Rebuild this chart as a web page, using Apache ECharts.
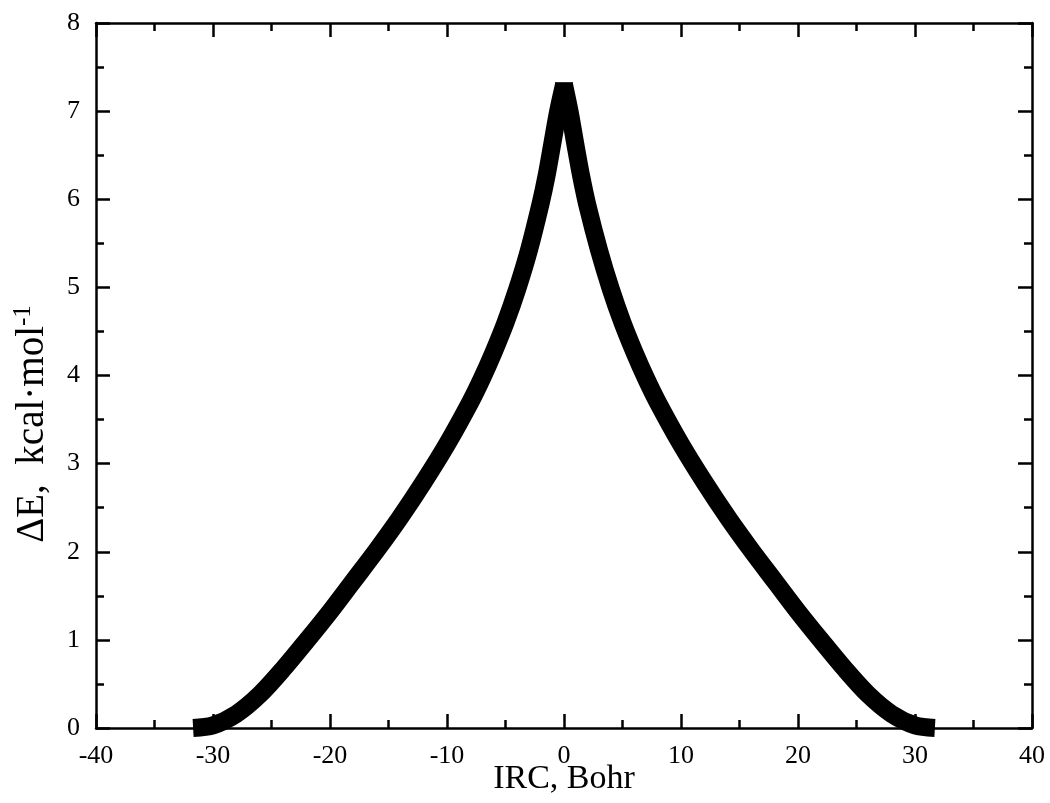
<!DOCTYPE html>
<html>
<head>
<meta charset="utf-8">
<script src="https://cdn.jsdelivr.net/npm/echarts@6/dist/echarts.min.js"></script>
<style>
html,body{margin:0;padding:0;background:#fff;}
#chart{width:1050px;height:803px;}
</style>
</head>
<body>
<div id="chart"></div>
<script>
// IRC coordinate (Bohr)
const irc = [-31.7, -30, -28, -26, -24, -22, -20, -18, -16, -14, -12, -10, -8, -7, -6, -5, -4, -3, -2, -1.5, -1, -0.5, 0,
             0.5, 1, 1.5, 2, 3, 4, 5, 6, 7, 8, 10, 12, 14, 16, 18, 20, 22, 24, 26, 28, 30, 31.7];
// Relative energy (kcal/mol)
const energy = [0.00, 0.03, 0.16, 0.38, 0.67, 0.99, 1.32, 1.67, 2.02, 2.39, 2.79, 3.22, 3.70, 3.97, 4.27, 4.60, 4.98, 5.42, 5.95, 6.26, 6.63, 7.00, 7.30,
                6.98, 6.60, 6.24, 5.93, 5.42, 4.98, 4.60, 4.27, 3.97, 3.70, 3.22, 2.79, 2.39, 2.02, 1.67, 1.32, 0.99, 0.67, 0.38, 0.16, 0.03, 0.00];
const xTicks = {min: -40, max: 40, interval: 10};
const yTicks = {min: 0, max: 8, interval: 1};

const chart = echarts.init(document.getElementById('chart'));
const font = '"Liberation Serif", "Times New Roman", serif';
const axisLine = {show: true, onZero: false, lineStyle: {color: '#000', width: 2.5}};
const tickIn = {show: true, inside: true, length: 14, lineStyle: {color: '#000', width: 2.5}};
const minorIn = {show: true, splitNumber: 2, length: 8, lineStyle: {color: '#000', width: 2.5}};

// split at the transition state (maximum energy) into reactant and product branches
const peak = energy.indexOf(Math.max(...energy));
const pts = irc.map((x, i) => [x, energy[i]]);
const left = pts.slice(0, peak + 1).map((p, i, a) => i === a.length - 1
  ? {value: p, symbol: 'rect', symbolSize: [18, 5], itemStyle: {color: '#000'}} : p);
const right = pts.slice(peak);
const lineStyle = {color: '#000', width: 18, cap: 'butt', join: 'bevel'};

chart.setOption({
  backgroundColor: '#fff',
  animation: false,
  grid: {left: 96, right: 18, top: 23, bottom: 75, show: false, containLabel: false, outerBoundsMode: 'none'},
  xAxis: [{
    type: 'value', min: xTicks.min, max: xTicks.max, interval: xTicks.interval, position: 'bottom',
    name: 'IRC, Bohr', nameLocation: 'middle', nameGap: 34, nameMoveOverlap: false,
    nameTextStyle: {fontFamily: font, fontSize: 34, color: '#000'},
    axisLine: axisLine, axisTick: tickIn, minorTick: minorIn,
    axisLabel: {fontFamily: font, fontSize: 26, color: '#000', margin: 15},
    splitLine: {show: false}
  }, {
    type: 'value', min: xTicks.min, max: xTicks.max, interval: xTicks.interval, position: 'top',
    axisLine: axisLine, axisTick: tickIn, minorTick: minorIn,
    axisLabel: {show: false}, splitLine: {show: false}
  }],
  yAxis: [{
    type: 'value', min: yTicks.min, max: yTicks.max, interval: yTicks.interval, position: 'left',
    name: '{n|ΔE,  kcal·mol}{s|-1}', nameLocation: 'middle', nameGap: 42, nameMoveOverlap: false,
    nameTextStyle: {
      fontFamily: font, fontSize: 39, color: '#000', padding: [0, 97, 0, 0],
      rich: {
        n: {fontFamily: font, fontSize: 39, color: '#000'},
        s: {fontFamily: font, fontSize: 25, color: '#000', verticalAlign: 'top', padding: [0, 0, 18, 0]}
      }
    },
    axisLine: axisLine, axisTick: tickIn, minorTick: minorIn,
    axisLabel: {fontFamily: font, fontSize: 26, color: '#000', margin: 16},
    splitLine: {show: false}
  }, {
    type: 'value', min: yTicks.min, max: yTicks.max, interval: yTicks.interval, position: 'right',
    axisLine: axisLine, axisTick: tickIn, minorTick: minorIn,
    axisLabel: {show: false}, splitLine: {show: false}
  }],
  series: [
    {type: 'line', data: left, showSymbol: true, symbol: 'none', smooth: 0.3, clip: true, lineStyle: lineStyle},
    {type: 'line', data: right, showSymbol: false, smooth: 0.3, clip: true, lineStyle: lineStyle}
  ]
});
</script>
</body>
</html>
